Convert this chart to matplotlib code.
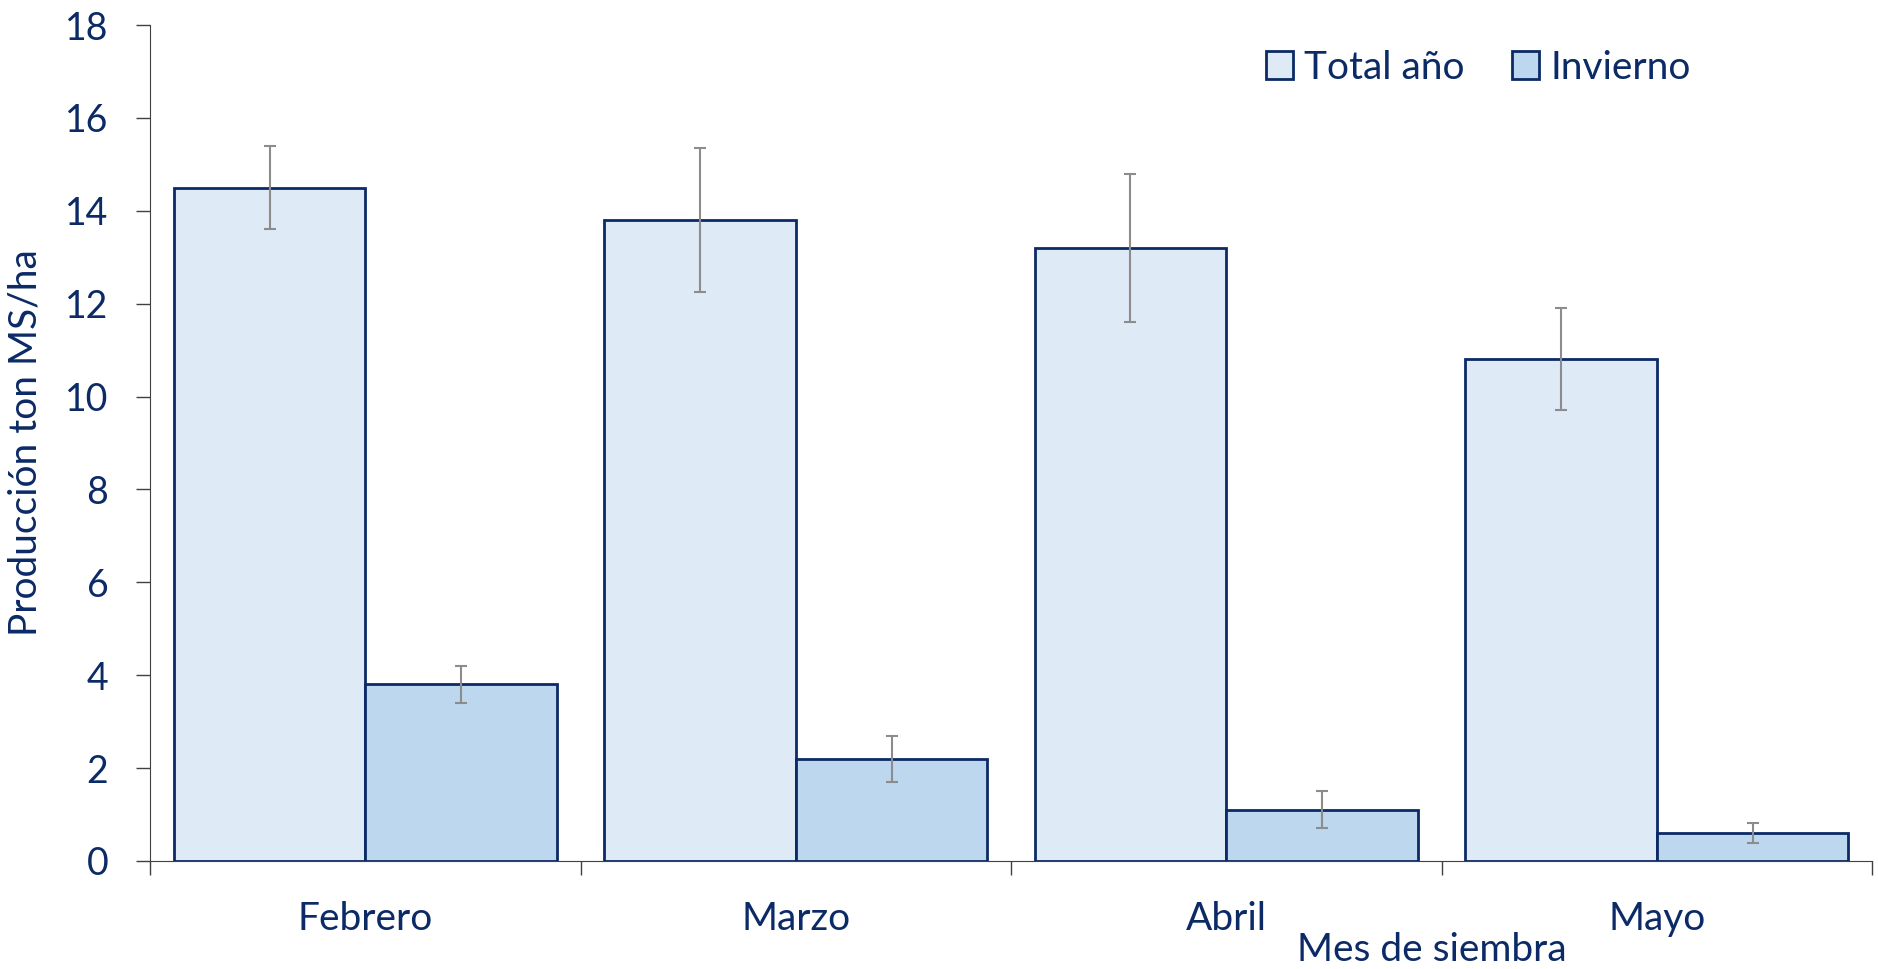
import matplotlib
matplotlib.use("Agg")
import matplotlib.pyplot as plt
import numpy as np

plt.rcParams['font.family'] = ['Lato', 'DejaVu Sans']

# datos
meses = ["Febrero", "Marzo", "Abril", "Mayo"]
total_anio = [14.5, 13.8, 13.2, 10.8]
total_err = [0.9, 1.55, 1.6, 1.1]
invierno = [3.8, 2.2, 1.1, 0.6]
invierno_err = [0.4, 0.5, 0.4, 0.22]

navy = "#0b2a66"
c_total = "#deeaf6"
c_inv = "#bdd7ee"

fig = plt.figure(figsize=(18.78, 9.69), dpi=100)
ax = fig.add_axes([0.0799, 0.1115, 0.9169, 0.8627])

x = np.arange(len(meses))
w = 0.445
ax.bar(x - w/2, total_anio, w, color=c_total, edgecolor=navy, linewidth=2,
       label="Total año", zorder=2)
ax.bar(x + w/2, invierno, w, color=c_inv, edgecolor=navy, linewidth=2,
       label="Invierno", zorder=2)
ax.errorbar(x - w/2, total_anio, yerr=total_err, fmt='none', ecolor='#8c8c8c',
            elinewidth=1.5, capsize=4.5, capthick=1.5, zorder=3)
ax.errorbar(x + w/2, invierno, yerr=invierno_err, fmt='none', ecolor='#8c8c8c',
            elinewidth=1.5, capsize=4.5, capthick=1.5, zorder=3)

ax.set_xlim(-0.5, 3.5)
ax.set_ylim(0, 18)
ax.set_yticks(range(0, 19, 2))
ax.tick_params(axis='y', length=10, width=1, color='#404040', pad=20,
               labelsize=27, labelcolor=navy)

# ticks del eje x en los limites de categoria, etiquetas al centro
ax.set_xticks(np.arange(-0.5, 4, 1))
ax.set_xticklabels([])
ax.tick_params(axis='x', which='major', length=10, width=1, color='#404040')
ax.set_xticks(x, minor=True)
ax.set_xticklabels(meses, minor=True)
ax.tick_params(axis='x', which='minor', length=0, pad=29, labelsize=28,
               labelcolor=navy)

for s in ['top', 'right']:
    ax.spines[s].set_visible(False)
ax.spines['left'].set_color('#404040')
ax.spines['bottom'].set_color('#404040')

ax.set_ylabel("Producción ton MS/ha", fontsize=28, color=navy)
ax.yaxis.set_label_coords(-0.062, 0.5)
fig.text(0.7625, 0.02, "Mes de siembra", fontsize=28, color=navy, ha='center', va='center')

ax.legend(loc='upper right', bbox_to_anchor=(0.919, 0.985), bbox_transform=fig.transFigure,
          ncol=2, frameon=False, fontsize=28, labelcolor=navy,
          handlelength=0.7, handleheight=0.7, handletextpad=0.3, columnspacing=1.2)

fig.savefig("out.png", dpi=100)
